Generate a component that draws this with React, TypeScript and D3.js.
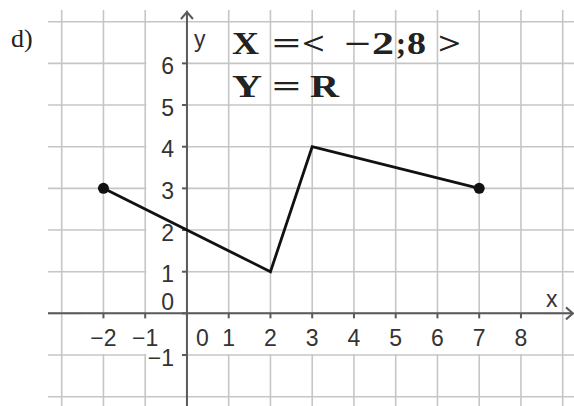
import React from "react";
import * as d3 from "d3";

// Piecewise-linear function f on the domain <-2; 8>
const vertexX = [-2, 2, 3, 7];
const vertexY = [3, 1, 4, 3];
// Closed endpoints drawn as filled dots
const dotX = [-2, 7];
const dotY = [3, 3];

// Axis tick labels
const xTickValues = [-2, -1, 0, 1, 2, 3, 4, 5, 6, 7, 8];
const yTickValues = [-1, 0, 1, 2, 3, 4, 5, 6];
// Grid lines
const xGridValues = [-3, -2, -1, 0, 1, 2, 3, 4, 5, 6, 7, 8, 9];
const yGridValues = [-2, -1, 0, 1, 2, 3, 4, 5, 6, 7];

const fmt = (v: number) => (v < 0 ? "\u2212" + Math.abs(v) : String(v));

// Glyphs of the domain/range note, with their left edge and width
const line1 = [
  { t: "X", x: 232, w: 27 },
  { t: "=", x: 272, w: 29 },
  { t: "<", x: 302, w: 23 },
  { t: "\u2212", x: 344, w: 27 },
  { t: "2", x: 372, w: 22 },
  { t: ";", x: 396, w: 10 },
  { t: "8", x: 407, w: 19 },
  { t: ">", x: 438, w: 23 },
];
const line2 = [
  { t: "Y", x: 232, w: 30 },
  { t: "=", x: 272, w: 29 },
  { t: "R", x: 310, w: 29 },
];

export default function App() {
  const W = 574;
  const H = 406;
  const x = d3.scaleLinear().domain([-3, 9]).range([61.7, 562.7]);
  const y = d3.scaleLinear().domain([-2, 7]).range([396.7, 21.7]);
  const x0 = x(0);
  const y0 = y(0);

  const lineGen = d3
    .line<number>()
    .x((_, i) => x(vertexX[i]))
    .y((_, i) => y(vertexY[i]));

  const gridColor = "#c6c6c6";
  const axisColor = "#5a5a5a";
  const sans = "'Liberation Sans', Arial, sans-serif";
  const serif = "'Liberation Serif', 'Times New Roman', serif";

  return (
    <div style={{ position: "fixed", left: 0, top: 0 }}>
      <svg width={W} height={H} style={{ display: "block", background: "#fff" }}>
        <rect x={0} y={0} width={W} height={H} fill="#fff" />

        {/* grid */}
        {xGridValues.map((v) => (
          <line key={"gx" + v} x1={x(v)} x2={x(v)} y1={10} y2={H} stroke={gridColor} strokeWidth={1.6} />
        ))}
        {yGridValues.map((v) => (
          <line key={"gy" + v} x1={48} x2={W} y1={y(v)} y2={y(v)} stroke={gridColor} strokeWidth={1.6} />
        ))}

        {/* label backgrounds */}
        <rect x={x(-1) + 1.2} y={y(6.5)} width={x0 - x(-1) - 1.2} height={y(-1.5) - y(6.5)} fill="#fff" />
        <rect x={x(-2.5)} y={y0 + 1} width={x(8.5) - x(-2.5)} height={y(-1) - y0 - 2} fill="#fff" />

        {/* axes */}
        <line x1={48} x2={573} y1={y0} y2={y0} stroke={axisColor} strokeWidth={2} />
        <line x1={x0} x2={x0} y1={H} y2={12} stroke={axisColor} strokeWidth={2} />
        <polyline
          points={`${x0 - 6},${19} ${x0},${12} ${x0 + 6},${19}`}
          fill="none"
          stroke={axisColor}
          strokeWidth={2}
        />
        <polyline
          points={`${566},${y0 - 6} ${573},${y0} ${566},${y0 + 6}`}
          fill="none"
          stroke={axisColor}
          strokeWidth={2}
        />

        {/* ticks */}
        {xTickValues.map((v) => (
          <line key={"tx" + v} x1={x(v)} x2={x(v)} y1={y0} y2={y0 + 5} stroke={axisColor} strokeWidth={2} />
        ))}
        {yTickValues.map((v) => (
          <line key={"ty" + v} x1={x0 - 5} x2={x0} y1={y(v)} y2={y(v)} stroke={axisColor} strokeWidth={2} />
        ))}

        {/* tick labels */}
        {xTickValues.map((v) => (
          <text
            key={"lx" + v}
            x={x(v) + (v === 0 ? 15.5 : 0)}
            y={y0 + 32.3}
            textAnchor="middle"
            fontFamily={sans}
            fontSize={23}
            fill="#333"
          >
            {fmt(v)}
          </text>
        ))}
        {yTickValues.map((v) => (
          <text
            key={"ly" + v}
            x={x0 - 13}
            y={v === 0 ? y0 - 3.5 : y(v) + 10.5}
            textAnchor="end"
            fontFamily={sans}
            fontSize={23}
            fill="#333"
          >
            {fmt(v)}
          </text>
        ))}

        {/* axis names */}
        <text x={194} y={47} fontFamily={sans} fontSize={23} fill="#333">
          y
        </text>
        <text x={546} y={307} fontFamily={sans} fontSize={23} fill="#333">
          x
        </text>

        {/* graph of f */}
        <path d={lineGen(vertexX) || ""} fill="none" stroke="#111" strokeWidth={2.8} strokeLinejoin="miter" />
        {dotX.map((v, i) => (
          <circle key={"d" + i} cx={x(v)} cy={y(dotY[i])} r={5.5} fill="#111" />
        ))}

        {/* part label */}
        <text x={11} y={47} fontFamily={serif} fontSize={26} fill="#222">
          d)
        </text>

        {/* domain and range */}
        {line1.map((g, i) => (
          <text
            key={"a" + i}
            x={g.x}
            y={53.5}
            textLength={g.w}
            lengthAdjust="spacingAndGlyphs"
            fontFamily={serif}
            fontWeight="bold"
            fontSize={31}
            fill="#222"
          >
            {g.t}
          </text>
        ))}
        {line2.map((g, i) => (
          <text
            key={"b" + i}
            x={g.x}
            y={96.5}
            textLength={g.w}
            lengthAdjust="spacingAndGlyphs"
            fontFamily={serif}
            fontWeight="bold"
            fontSize={31}
            fill="#222"
          >
            {g.t}
          </text>
        ))}
      </svg>
    </div>
  );
}
